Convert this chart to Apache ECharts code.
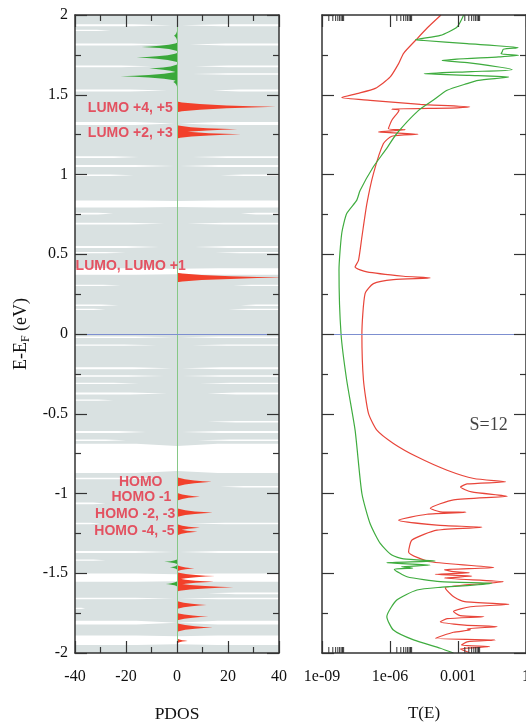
<!DOCTYPE html>
<html>
<head>
<meta charset="utf-8">
<script src="https://cdn.jsdelivr.net/npm/echarts@6/dist/echarts.min.js"></script>
<style>
html,body{margin:0;padding:0;background:#fff;}
#chart_main{width:526px;height:724px;}
</style>
</head>
<body>
<div id="chart_main"></div>
<script type="text/javascript">
// white gaps in the grey total DOS: [energy, half thickness (eV), left reach, right reach]  (-1 = no gap on that side)
var gaps = [
	[1.936,0.006,2,2],[1.903,0.004,26,-1],[1.815,0.006,3,5],[1.678,0.006,10,7],[1.630,0.005,-1,6],
	[1.527,0.006,4,14],[1.320,0.009,1,1],[1.109,0.005,15,6],[1.053,0.006,1,1],[0.995,0.005,17,17],
	[0.815,0.022,0,0],[0.755,0.005,25,25],[0.692,0.005,5,4],[0.545,0.006,7,7],[0.510,0.004,20,15],
	[0.392,0.020,0,0],[0.305,0.004,22,22],[0.180,0.005,23,25],[0.155,0.004,28,20],[-0.020,0.005,1,1],
	[-0.070,0.004,8,6],[-0.215,0.006,2,2],[-0.263,0.005,5,2],[-0.310,0.004,15,9],[-0.373,0.006,4,12],
	[-0.415,0.004,25,-1],[-0.550,0.005,-1,12],[-0.614,0.006,12,2],[-0.666,0.005,20,8],[-0.780,0.092,0,0],
	[-0.906,0.005,5,-1],[-0.958,0.005,-1,17],[-1.062,0.005,28,-1],[-1.188,0.005,30,5],[-1.367,0.006,1,1],
	[-1.418,0.004,28,-1],[-1.528,0.026,0,0],[-1.626,0.005,-1,12],[-1.658,0.005,1,1],[-1.720,0.004,36,-1],
	[-1.810,0.012,0,0],[-1.920,0.030,0,0]
];
// PDOS peaks: [energy, height, half width at base (eV)]
var redPeaks = [
	[1.424,38.8,0.033],[1.283,23.6,0.026],[1.252,25.0,0.026],[0.354,42,0.030],
	[-0.927,13.6,0.030],[-1.020,9.0,0.026],[-1.120,14.0,0.028],[-1.215,9.0,0.024],[-1.240,8.0,0.024],
	[-1.469,6.8,0.020],[-1.518,14.9,0.024],[-1.553,14.5,0.024],[-1.588,22.1,0.026],
	[-1.699,11.6,0.026],[-1.772,12.3,0.024],[-1.840,14.0,0.028],[-1.924,4.2,0.016]
];
var greenPeaks = [
	[1.870,-1.2,0.03],[1.800,-13.8,0.026],[1.733,-15.8,0.028],[1.664,-10.9,0.026],[1.616,-22.1,0.030],
	[1.580,-1.5,0.03],[-1.428,-5.0,0.014],[-1.463,-2.8,0.014],[-1.567,-4.4,0.016]
];
// level labels: [text, right edge (PDOS), energy]
var levelLabels = [
	['LUMO +4, +5',-1.5,1.419],['LUMO +2, +3',-1.5,1.262],['LUMO, LUMO +1',3.6,0.427],
	['HOMO',-5.5,-0.931],['HOMO -1',-2,-1.025],['HOMO -2, -3',-0.5,-1.129],['HOMO -4, -5',-0.8,-1.234]
];
// transmission: [energy, log10 T(E)]
var redT = [
	[2.0,-3.75],[1.92,-4.35],[1.84,-4.88],[1.76,-5.40],[1.695,-5.62],[1.61,-6.0],[1.54,-6.65],[1.507,-7.46],
	[1.482,-8.13],[1.465,-6.88],[1.44,-4.66],[1.424,-2.48],[1.418,-3.04],[1.41,-5.92],[1.403,-5.6],[1.34,-5.92],
	[1.287,-6.07],[1.28,-5.33],[1.267,-6.51],[1.252,-4.77],[1.24,-5.92],[1.194,-6.29],[1.006,-6.73],[0.817,-7.02],
	[0.608,-7.24],[0.462,-7.39],[0.42,-7.54],[0.389,-7.02],[0.362,-5.4],[0.351,-4.22],[0.341,-5.85],[0.316,-6.73],
	[0.253,-7.1],[0.0,-7.24],[-0.29,-7.17],[-0.498,-6.95],[-0.603,-6.58],[-0.686,-5.85],[-0.77,-4.81],[-0.854,-3.48],
	[-0.906,-2.3],[-0.927,-0.9],[-0.94,-2.6],[-0.96,-2.89],[-0.99,-2.4],[-1.017,-0.83],[-1.04,-3.19],[-1.093,-4.22],
	[-1.115,-3.78],[-1.118,-2.65],[-1.13,-4.37],[-1.167,-5.62],[-1.198,-3.93],[-1.212,-1.93],[-1.23,-3.93],
	[-1.292,-5.03],[-1.366,-5.18],[-1.428,-4.22],[-1.464,-1.42],[-1.478,-3.6],[-1.49,-3.2],[-1.497,-2.5],
	[-1.507,-4.0],[-1.518,-2.38],[-1.53,-3.6],[-1.553,-1.0],[-1.574,-2.75],[-1.59,-3.56],[-1.606,-3.5],
	[-1.647,-3.19],[-1.678,-2.7],[-1.695,-0.75],[-1.71,-2.45],[-1.74,-3.2],[-1.766,-2.9],[-1.773,-1.86],
	[-1.785,-3.48],[-1.804,-3.78],[-1.825,-2.7],[-1.835,-1.27],[-1.848,-2.6],[-1.855,-2.45],[-1.87,-3.2],
	[-1.908,-4.0],[-1.918,-1.35],[-1.93,-2.6],[-1.95,-2.85],[-1.96,-1.6],[-1.975,-2.9],[-2.0,-2.45]
];
var greenT = [
	[2.0,-2.75],[1.925,-3.04],[1.872,-3.78],[1.845,-4.88],[1.84,-4.5],[1.82,-2.6],[1.795,-0.35],[1.785,-1.0],
	[1.77,-1.05],[1.757,-1.1],[1.747,-0.33],[1.737,-1.2],[1.715,-3.7],[1.70,-2.5],[1.657,-0.61],[1.645,-2.4],
	[1.632,-4.49],[1.622,-2.5],[1.611,-0.76],[1.59,-2.1],[1.57,-2.6],[1.528,-3.48],[1.465,-4.1],[1.402,-4.74],
	[1.257,-5.7],[1.151,-6.21],[1.047,-6.74],[0.9,-7.32],[0.838,-7.47],[0.755,-7.91],[0.63,-8.13],[0.4,-8.25],
	[0.0,-8.16],[-0.29,-7.91],[-0.603,-7.54],[-1.0,-7.24],[-1.188,-6.88],[-1.313,-6.43],[-1.386,-5.92],
	[-1.41,-5.4],[-1.423,-4.0],[-1.434,-6.14],[-1.449,-4.22],[-1.46,-5.5],[-1.468,-5.0],[-1.476,-5.81],
	[-1.522,-5.25],[-1.553,-3.78],[-1.563,-1.49],[-1.578,-2.6],[-1.588,-3.78],[-1.605,-4.81],[-1.668,-5.7],
	[-1.772,-6.14],[-1.856,-5.85],[-1.918,-4.96],[-1.97,-3.78],[-2.0,-3.2]
];
var pdosRange = [-40,40];
var tTickExps = [-9,-6,-3,0];
var tTickLabels = ['1e-09','1e-06','0.001','1'];

var serif = 'Liberation Serif';
var frame = '#333';

function toT(list){
	return list.map(function(p){ return [Math.pow(10,p[1]),p[0]]; });
}
// minor log ticks (2..9) in the first decade after each labelled tick
var minorTicks = [];
tTickExps.slice(0,3).forEach(function(e){
	for(var m=2;m<=9;m++){ minorTicks.push([m*Math.pow(10,e),0]); }
});

function renderGap(params,api){
	var E = api.value(0), h = api.value(1);
	var tip = h > 0.015 ? 0.85 : 0;
	var kids = [];
	[[-1,api.value(2)],[1,api.value(3)]].forEach(function(s){
		if(s[1] < 0) return;
		var x0 = 40*s[0], xt = s[1]*s[0], xm = x0+(xt-x0)*0.6;
		kids.push({type:'polygon',shape:{points:[
			api.coord([x0,E+h]),api.coord([xm,E+h]),api.coord([xt,E+h*tip]),
			api.coord([xt,E-h*tip]),api.coord([xm,E-h]),api.coord([x0,E-h])
		]},style:{fill:'#fff'}});
	});
	return {type:'group',children:kids};
}
function peakRenderer(color){
	return function(params,api){
		var E = api.value(0), H = api.value(1), w = api.value(2);
		var prof = [[0,1],[0.05,0.85],[0.23,0.53],[0.5,0.28],[0.75,0.12],[1,0]];
		var pts = [];
		prof.forEach(function(p){ pts.push(api.coord([H*p[0],E-w*p[1]])); });
		for(var i=prof.length-2;i>=0;i--){ pts.push(api.coord([H*prof[i][0],E+w*prof[i][1]])); }
		return {type:'polygon',shape:{points:pts},style:{fill:color}};
	};
}
function renderMinor(params,api){
	var b = api.coord([api.value(0),-2]), t = api.coord([api.value(0),2]);
	return {type:'group',children:[
		{type:'line',shape:{x1:b[0],y1:b[1],x2:b[0],y2:b[1]-6},style:{stroke:frame,lineWidth:1}},
		{type:'line',shape:{x1:t[0],y1:t[1],x2:t[0],y2:t[1]+6},style:{stroke:frame,lineWidth:1}}
	]};
}

var axisBase = {
	z:10,
	axisLine:{show:true,onZero:false,lineStyle:{color:frame,width:1.5}},
	axisTick:{show:true,inside:true,length:12,lineStyle:{color:frame,width:1.2}},
	splitLine:{show:false},
	axisLabel:{show:false}
};
function ax(extra){ return echarts.util.merge(echarts.util.clone(axisBase),extra,true); }

var labelFont = {fontFamily:serif,fontSize:16,color:'#111'};
var yMinor = {show:true,splitNumber:2,length:6,lineStyle:{color:frame,width:1.2}};
var zeroStyle = {color:'#7d8fd0',width:1.2,type:'solid'};

myChart = echarts.init(document.getElementById('chart_main'),null,{renderer:'canvas'});
var option = {
	animation:false,
	backgroundColor:'#fff',
	grid:[
		{left:75,top:15,width:204,height:638,show:true,backgroundColor:'#d9e1e1',borderWidth:0,
			containLabel:false,outerBoundsMode:'none'},
		{left:322,top:15,width:204,height:638,containLabel:false,outerBoundsMode:'none'}
	],
	xAxis:[
		ax({gridIndex:0,type:'value',min:pdosRange[0],max:pdosRange[1],interval:20,position:'bottom',
			minorTick:yMinor,
			axisLabel:echarts.util.extend({show:true,margin:16},labelFont),
			name:'PDOS',nameLocation:'middle',nameGap:52,
			nameTextStyle:{fontFamily:serif,fontSize:17.5,color:'#111'}}),
		ax({gridIndex:0,type:'value',min:pdosRange[0],max:pdosRange[1],interval:20,position:'top',minorTick:yMinor}),
		ax({gridIndex:1,type:'log',logBase:10,min:1e-9,max:1,interval:3,position:'bottom',
			axisLabel:echarts.util.extend({show:true,margin:16,showMaxLabel:true,
				formatter:function(v){
					var i = tTickExps.indexOf(Math.round(Math.log10(v)));
					return i < 0 ? '' : tTickLabels[i];
				}},labelFont),
			name:'T(E)',nameLocation:'middle',nameGap:52,
			nameTextStyle:{fontFamily:serif,fontSize:17,color:'#111'}}),
		ax({gridIndex:1,type:'log',logBase:10,min:1e-9,max:1,interval:3,position:'top'})
	],
	yAxis:[
		ax({gridIndex:0,type:'value',min:-2,max:2,interval:0.5,position:'left',minorTick:yMinor,
			axisLabel:echarts.util.extend({show:true,margin:7},labelFont),
			name:'E-E{s|F} (eV)',nameLocation:'middle',nameGap:43,
			nameTextStyle:{fontFamily:serif,fontSize:18,color:'#111',
				rich:{s:{fontFamily:serif,fontSize:12,color:'#111',padding:[9,0,0,0]}}}}),
		ax({gridIndex:0,type:'value',min:-2,max:2,interval:0.5,position:'right',minorTick:yMinor}),
		ax({gridIndex:1,type:'value',min:-2,max:2,interval:0.5,position:'left',minorTick:yMinor}),
		ax({gridIndex:1,type:'value',min:-2,max:2,interval:0.5,position:'right',minorTick:yMinor})
	],
	series:[
		{type:'custom',name:'gaps',xAxisIndex:0,yAxisIndex:0,z:1,clip:true,silent:true,
			renderItem:renderGap,data:gaps},
		{type:'custom',name:'red',xAxisIndex:0,yAxisIndex:0,z:3,clip:true,silent:true,
			renderItem:peakRenderer('#f2402b'),data:redPeaks},
		{type:'custom',name:'green',xAxisIndex:0,yAxisIndex:0,z:3,clip:true,silent:true,
			renderItem:peakRenderer('#3aa83a'),data:greenPeaks},
		{type:'scatter',name:'labels',xAxisIndex:0,yAxisIndex:0,z:5,silent:true,
			symbolSize:1,itemStyle:{color:'rgba(0,0,0,0)'},
			data:levelLabels.map(function(l){ return [l[1],l[2],l[0]]; }),
			label:{show:true,position:'left',distance:0,formatter:function(p){ return p.value[2]; },
				fontFamily:'Liberation Sans',fontWeight:'bold',fontSize:14,color:'#e52d40',textBorderWidth:0},
			markLine:{silent:true,symbol:'none',label:{show:false},
				data:[
					[{coord:[0,-2],lineStyle:{color:'#86c886',width:1,type:'solid'}},{coord:[0,2]}],
					[{coord:[pdosRange[0],0],lineStyle:zeroStyle},{coord:[pdosRange[1],0]}]
				]}},
		{type:'line',name:'T red',xAxisIndex:2,yAxisIndex:2,z:4,symbol:'none',smooth:0.2,
			lineStyle:{color:'#e8453a',width:1.2},data:toT(redT)},
		{type:'line',name:'T green',xAxisIndex:2,yAxisIndex:2,z:4,symbol:'none',smooth:0.2,
			lineStyle:{color:'#3fac3f',width:1.2},data:toT(greenT)},
		{type:'custom',name:'minor',xAxisIndex:2,yAxisIndex:2,z:6,silent:true,
			renderItem:renderMinor,data:minorTicks},
		{type:'scatter',name:'note',xAxisIndex:2,yAxisIndex:2,z:5,silent:true,
			symbolSize:1,itemStyle:{color:'rgba(0,0,0,0)'},data:[[Math.pow(10,-1.65),-0.572,'S=12']],
			label:{show:true,position:'inside',formatter:function(p){ return p.value[2]; },
				fontFamily:serif,fontSize:18,color:'#111'},
			markLine:{silent:true,symbol:'none',label:{show:false},
				data:[[{coord:[1e-9,0],lineStyle:zeroStyle},{coord:[1,0]}]]}}
	]
};
myChart.setOption(option);
</script>
</body>
</html>
